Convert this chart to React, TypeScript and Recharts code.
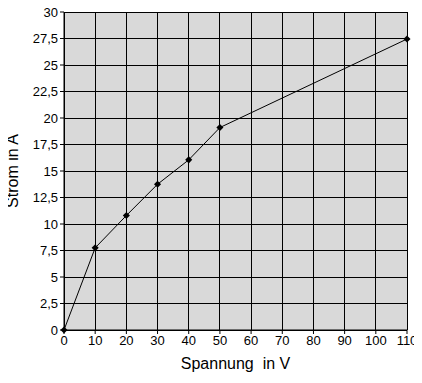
import { CartesianGrid, Line, LineChart, XAxis, YAxis } from 'recharts';

const spannung = [0, 10, 20, 30, 40, 50, 110];
const strom = [0, 7.75, 10.8, 13.75, 16.05, 19.1, 27.45];
const xTicks = [0, 10, 20, 30, 40, 50, 60, 70, 80, 90, 100, 110];
const yTicks = [0, 2.5, 5, 7.5, 10, 12.5, 15, 17.5, 20, 22.5, 25, 27.5, 30];

const chartData = spannung.map((u, i) => ({ u, i: strom[i] }));

const font = 'Liberation Sans, Arial, sans-serif';
const fmt = (v: number) => String(v).replace('.', ',');

const Dot = ({ cx, cy }: any) => (
  <rect x={cx - 2.5} y={cy - 2.5} width={5} height={5} fill="#000" transform={`rotate(45 ${cx} ${cy})`} />
);

export default function App() {
  return (
    <div style={{ margin: -8, width: 422, height: 383, background: '#fff', fontFamily: font }}>
      <LineChart width={422} height={383} data={chartData} margin={{ top: 12, right: 15, left: 8, bottom: 20 }}>
        <CartesianGrid fill="#d9d9d9" stroke="#000" strokeWidth={1} fillOpacity={1} shapeRendering="crispEdges" />
        <XAxis
          dataKey="u"
          type="number"
          domain={[0, 110]}
          ticks={xTicks}
          interval={0}
          height={33}
          stroke="#000"
          tickSize={4}
          tick={{ fill: '#000', fontSize: 13, fontFamily: font }}
          label={{ value: 'Spannung\u00a0 in V', position: 'insideBottom', offset: -6, fill: '#000', fontSize: 16, fontFamily: font }}
        />
        <YAxis
          type="number"
          domain={[0, 30]}
          ticks={yTicks}
          interval={0}
          width={56}
          stroke="#000"
          tickSize={4}
          tickFormatter={fmt}
          tick={{ fill: '#000', fontSize: 13, fontFamily: font }}
          label={{ value: 'Strom in A', angle: -90, position: 'insideLeft', offset: 0, dx: 4, fill: '#000', fontSize: 16, fontFamily: font, style: { textAnchor: 'middle' } }}
        />
        <Line
          dataKey="i"
          stroke="#000"
          strokeWidth={1}
          dot={<Dot />}
          activeDot={false}
          isAnimationActive={false}
        />
      </LineChart>
    </div>
  );
}
